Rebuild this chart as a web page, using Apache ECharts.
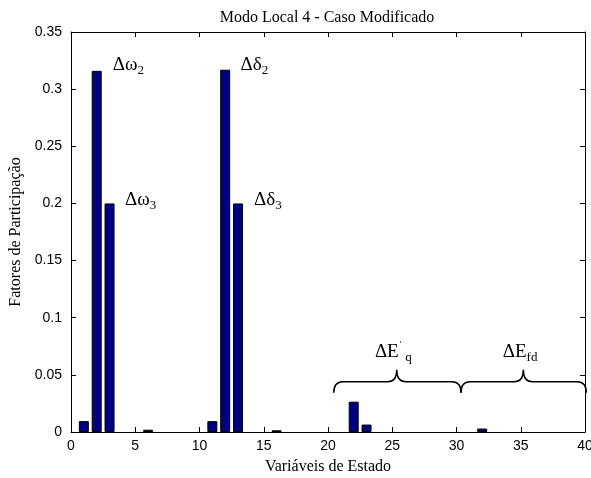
<!DOCTYPE html>
<html>
<head>
<meta charset="utf-8">
<title>Modo Local 4 - Caso Modificado</title>
<script src="https://cdn.jsdelivr.net/npm/echarts@6/dist/echarts.min.js"></script>
<style>
  html, body { margin: 0; padding: 0; background: #fff; }
  #main { width: 591px; height: 478px; }
</style>
</head>
<body>
<div id="main"></div>
<script>
// variaveis de estado 1..40 e seus fatores de participacao
var estados = [];
for (var i = 1; i <= 40; i++) estados.push(i);
var fatores = [
  0.0095, 0.316, 0.200, 0, 0, 0.002, 0, 0, 0, 0,
  0.0095, 0.317, 0.200, 0, 0, 0.0015, 0, 0, 0, 0,
  0, 0.0265, 0.0065, 0, 0, 0, 0, 0, 0, 0,
  0, 0.003, 0, 0, 0, 0, 0, 0, 0, 0
];
var xTicks = [0, 5, 10, 15, 20, 25, 30, 35, 40];
var yTicks = [0, 0.05, 0.1, 0.15, 0.2, 0.25, 0.3, 0.35];

// anotacoes (texto das variaveis)
var rotulos = ['{m|Δω}{s|2}', '{m|Δδ}{s|2}', '{m|Δω}{s|3}', '{m|Δδ}{s|3}', '{m|ΔE}{p|\'}{s|q}', '{m|ΔE}{s|fd}'];
var rotuloX = [3.25, 13.2, 4.2, 14.25, 23.65, 33.6];
var rotuloY = [0.321, 0.321, 0.203, 0.203, 0.070, 0.070];

// chaves: inicio, fim, ponta, altura da linha
var chaveInicio = [20.45, 30.35];
var chaveFim = [30.35, 40.1];
var chavePonta = [25.35, 35.2];
var chaveY = [0.044, 0.044];

var chart = echarts.init(document.getElementById('main'), null, { renderer: 'canvas' });

// barras nulas nao sao desenhadas (ficam sob o eixo)
var barData = estados.map(function (e, i) { return [e, fatores[i] > 0 ? fatores[i] : null]; });
var labelData = rotulos.map(function (t, i) { return [rotuloX[i], rotuloY[i], t]; });
var braceData = chaveInicio.map(function (s, i) { return [s, chaveFim[i], chavePonta[i], chaveY[i]]; });

var serif = 'Liberation Serif';
var sans = 'Liberation Sans';

var baseX = {
  type: 'value', min: xTicks[0], max: xTicks[xTicks.length - 1], interval: 5,
  axisLine: { show: true, onZero: false, lineStyle: { color: '#000', width: 1 } },
  axisTick: { show: true, inside: true, length: 5, lineStyle: { color: '#000' } },
  splitLine: { show: false }
};
var baseY = {
  type: 'value', min: yTicks[0], max: yTicks[yTicks.length - 1], interval: 0.05,
  axisLine: { show: true, onZero: false, lineStyle: { color: '#000', width: 1 } },
  axisTick: { show: true, inside: true, length: 5, lineStyle: { color: '#000' } },
  splitLine: { show: false }
};

var option = {
  backgroundColor: '#fff',
  animation: false,
  title: {
    text: 'Modo Local 4 - Caso Modificado',
    left: 322, top: 5, textAlign: 'center',
    textStyle: { fontFamily: serif, fontSize: 16, fontWeight: 'normal', color: '#000' }
  },
  grid: { left: 71, right: 6, top: 32, bottom: 46, outerBoundsMode: 'none' },
  xAxis: [
    Object.assign({}, baseX, {
      position: 'bottom',
      axisLabel: { color: '#000', fontFamily: sans, fontSize: 14, margin: 7 },
      name: 'Variáveis de Estado', nameLocation: 'middle', nameGap: 27,
      nameTextStyle: { fontFamily: serif, fontSize: 16, color: '#000' }
    }),
    Object.assign({}, baseX, { position: 'top', axisLabel: { show: false } })
  ],
  yAxis: [
    Object.assign({}, baseY, {
      position: 'left',
      axisLabel: { color: '#000', fontFamily: sans, fontSize: 14, margin: 9 },
      name: 'Fatores de Participação', nameLocation: 'middle', nameGap: 41,
      nameTextStyle: { fontFamily: serif, fontSize: 16, color: '#000' }
    }),
    Object.assign({}, baseY, { position: 'right', axisLabel: { show: false } })
  ],
  series: [
    {
      type: 'bar',
      data: barData,
      barWidth: 10,
      itemStyle: { color: '#000080', borderColor: '#000', borderWidth: 1 }
    },
    {
      // chaves { }
      type: 'custom',
      clip: false,
      data: braceData,
      renderItem: function (params, api) {
        var a = api.coord([api.value(0), api.value(3)]);
        var b = api.coord([api.value(1), api.value(3)]);
        var p = api.coord([api.value(2), api.value(3)]);
        var y = a[1], h = 11, hp = 12, r = 9;
        var d = 'M' + a[0] + ',' + (y + h) +
          ' Q' + a[0] + ',' + y + ' ' + (a[0] + r) + ',' + y +
          ' L' + (p[0] - r) + ',' + y +
          ' Q' + p[0] + ',' + y + ' ' + p[0] + ',' + (y - hp) +
          ' Q' + p[0] + ',' + y + ' ' + (p[0] + r) + ',' + y +
          ' L' + (b[0] - r) + ',' + y +
          ' Q' + b[0] + ',' + y + ' ' + b[0] + ',' + (y + h);
        return {
          type: 'path',
          shape: { pathData: d },
          style: { fill: 'none', stroke: '#000', lineWidth: 1.5 }
        };
      }
    },
    {
      // rotulos das variaveis
      type: 'custom',
      clip: false,
      data: labelData,
      renderItem: function (params, api) {
        var pt = api.coord([api.value(0), api.value(1)]);
        return {
          type: 'text',
          style: {
            x: pt[0], y: pt[1],
            text: labelData[params.dataIndex][2],
            align: 'left', verticalAlign: 'middle',
            fill: '#000',
            rich: {
              m: { fontFamily: serif, fontSize: 19, lineHeight: 24, color: '#000' },
              s: { fontFamily: serif, fontSize: 13, lineHeight: 14, verticalAlign: 'bottom', color: '#000' },
              p: { fontFamily: serif, fontSize: 9, lineHeight: 10, verticalAlign: 'top', color: '#000', padding: [0, 4, 0, 1] }
            }
          }
        };
      }
    }
  ]
};

chart.setOption(option);
</script>
</body>
</html>
